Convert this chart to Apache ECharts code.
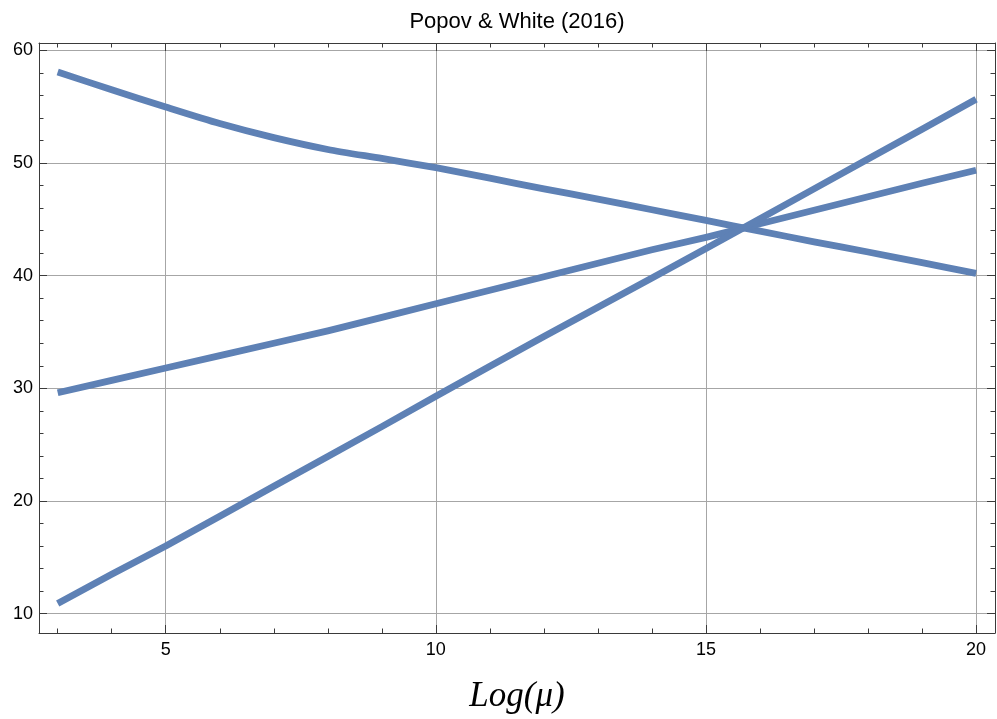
<!DOCTYPE html>
<html>
<head>
<meta charset="utf-8">
<title>Popov & White (2016)</title>
<script src="https://cdn.jsdelivr.net/npm/echarts@6/dist/echarts.min.js"></script>
<style>
  html, body { margin: 0; padding: 0; background: #ffffff; }
  #chart { width: 997px; height: 719px; }
</style>
</head>
<body>
<div id="chart"></div>
<script>
// Sample points along Log(mu)
const logMu = [3, 4, 5, 6, 7, 8, 9, 10, 11, 12, 13, 14, 15, 16, 17, 18, 19, 20];

// Three curves
const curveFalling = [58.07, 56.5, 54.97, 53.5, 52.25, 51.2, 50.4, 49.58, 48.65, 47.7, 46.8, 45.85, 44.9, 43.95, 43.0, 42.1, 41.15, 40.2];
const curveMiddle  = [29.6, 30.7, 31.8, 32.9, 34.0, 35.1, 36.3, 37.5, 38.7, 39.9, 41.1, 42.3, 43.4, 44.6, 45.8, 47.0, 48.2, 49.35];
const curveSteep   = [10.9, 13.5, 16.0, 18.65, 21.3, 23.95, 26.6, 29.3, 31.95, 34.6, 37.2, 39.8, 42.4, 45.05, 47.7, 50.35, 53.0, 55.65];

// Axis ranges and ticks
const xRange = [2.654, 20.35];
const yRange = [8.28, 60.65];
const xMajor = [5, 10, 15, 20];
const xMinor = [3, 4, 6, 7, 8, 9, 11, 12, 13, 14, 16, 17, 18, 19];
const yMajor = [10, 20, 30, 40, 50, 60];
const yMinor = [12, 14, 16, 18, 22, 24, 26, 28, 32, 34, 36, 38, 42, 44, 46, 48, 52, 54, 56, 58];

const titleText = 'Popov & White (2016)';
const xName = 'Log(\u03bc)';

const lineColor = '#5e81b5';
const frameColor = '#3a3a3a';
const gridColor = '#a6a6a6';

function pairs(ys) {
  return logMu.map((x, i) => [x, ys[i]]);
}

function makeAxis(kind, position, ticks, major, withLabels, withGrid) {
  const range = kind === 'x' ? xRange : yRange;
  return {
    type: 'value',
    position: position,
    min: range[0],
    max: range[1],
    axisLine: { show: major, lineStyle: { color: frameColor, width: 1 } },
    axisTick: {
      show: true,
      inside: true,
      length: major ? 8 : 4.5,
      customValues: ticks,
      lineStyle: { color: frameColor, width: 1 }
    },
    axisLabel: {
      show: withLabels,
      customValues: ticks,
      color: '#000000',
      fontFamily: 'Liberation Sans, Arial, sans-serif',
      fontSize: 18,
      margin: kind === 'x' ? 8 : 6
    },
    splitLine: { show: withGrid, lineStyle: { color: gridColor, width: 1 } },
    minorTick: { show: false },
    minorSplitLine: { show: false }
  };
}

const chart = echarts.init(document.getElementById('chart'), null, { renderer: 'canvas' });

function curve(name, ys, smooth) {
  return {
    name: name,
    type: 'line',
    data: pairs(ys),
    xAxisIndex: 0,
    yAxisIndex: 0,
    showSymbol: false,
    symbol: 'none',
    smooth: smooth,
    lineStyle: { color: lineColor, width: 6.8, cap: 'butt', join: 'round' },
    itemStyle: { color: lineColor },
    animation: false,
    silent: true
  };
}

chart.setOption({
  animation: false,
  backgroundColor: '#ffffff',
  grid: { left: 39, right: 2, top: 43, bottom: 86, containLabel: false, outerBoundsMode: 'none' },
  xAxis: [
    makeAxis('x', 'bottom', xMajor, true, true, true),
    makeAxis('x', 'bottom', xMinor, false, false, false),
    makeAxis('x', 'top', xMajor, true, false, false),
    makeAxis('x', 'top', xMinor, false, false, false)
  ],
  yAxis: [
    makeAxis('y', 'left', yMajor, true, true, true),
    makeAxis('y', 'left', yMinor, false, false, false),
    makeAxis('y', 'right', yMajor, true, false, false),
    makeAxis('y', 'right', yMinor, false, false, false)
  ],
  graphic: [
    {
      type: 'text',
      x: 517,
      y: 22,
      style: {
        text: titleText,
        fill: '#000000',
        font: '22px "Liberation Sans", Arial, sans-serif',
        align: 'center',
        verticalAlign: 'middle'
      }
    },
    {
      type: 'text',
      x: 517,
      y: 697,
      style: {
        text: xName,
        fill: '#000000',
        font: 'italic 35px "Liberation Serif", "Times New Roman", serif',
        align: 'center',
        verticalAlign: 'middle'
      }
    }
  ],
  series: [
    curve('falling', curveFalling, 0.25),
    curve('middle', curveMiddle, false),
    curve('steep', curveSteep, false)
  ]
});
</script>
</body>
</html>
